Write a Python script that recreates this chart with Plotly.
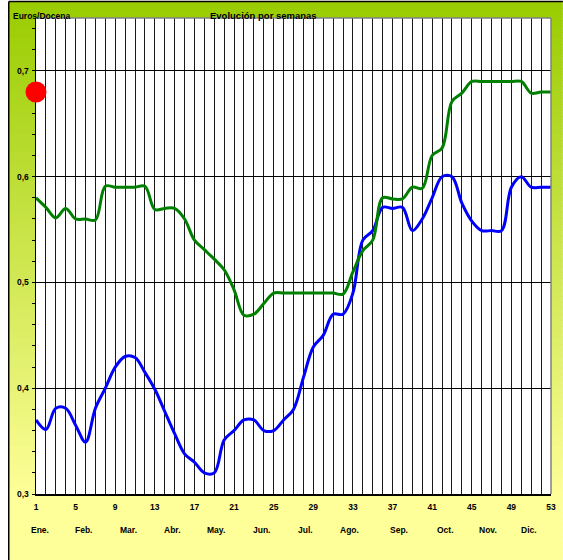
import plotly.graph_objects as go

weeks = list(range(1, 54))
green_vals = [0.580, 0.571, 0.561, 0.570, 0.560, 0.560, 0.559, 0.591, 0.590, 0.590,
              0.590, 0.591, 0.569, 0.570, 0.570, 0.560, 0.540, 0.531, 0.522, 0.512,
              0.493, 0.469, 0.470, 0.480, 0.490, 0.490, 0.490, 0.490, 0.490, 0.490,
              0.490, 0.489, 0.510, 0.530, 0.540, 0.580, 0.579, 0.579, 0.590, 0.589,
              0.620, 0.627, 0.671, 0.679, 0.690, 0.690, 0.690, 0.690, 0.690, 0.690,
              0.679, 0.680, 0.680]
blue_vals = [0.370, 0.361, 0.381, 0.381, 0.365, 0.349, 0.381, 0.400, 0.420, 0.430,
             0.429, 0.415, 0.399, 0.378, 0.357, 0.338, 0.330, 0.320, 0.320, 0.351,
             0.360, 0.370, 0.370, 0.360, 0.360, 0.370, 0.380, 0.410, 0.439, 0.450,
             0.470, 0.470, 0.490, 0.540, 0.549, 0.571, 0.570, 0.571, 0.549, 0.560,
             0.580, 0.600, 0.600, 0.575, 0.558, 0.549, 0.549, 0.549, 0.590, 0.600,
             0.590, 0.590, 0.590]
dot_week = [1]
dot_val = [0.68]
x_label_weeks = list(range(1, 54, 4))
y_label_vals = [0.3, 0.4, 0.5, 0.6, 0.7]
months = ["Ene.", "Feb.", "Mar.", "Abr.", "May.", "Jun.", "Jul.", "Ago.", "Sep.", "Oct.", "Nov.", "Dic."]
month_pos = [1.45, 5.75, 10.3, 14.8, 19.2, 23.8, 28.2, 32.7, 37.7, 42.3, 46.6, 50.8]

W, H = 563, 560
L, R, T, B = 36, 7, 18, 66
PW, PH = W - L - R, H - T - B


def px(x):
    return (x - L) / PW


def py(y):
    return (H - B - y) / PH


FONT = "Liberation Sans, Arial, sans-serif"

fig = go.Figure()
fig.add_trace(go.Scatter(x=weeks, y=blue_vals, mode="lines",
                         line=dict(color="#0000FF", width=3, shape="spline", smoothing=1),
                         hoverinfo="skip", showlegend=False))
fig.add_trace(go.Scatter(x=weeks, y=green_vals, mode="lines",
                         line=dict(color="#008000", width=3, shape="spline", smoothing=1),
                         hoverinfo="skip", showlegend=False))
fig.add_trace(go.Scatter(x=dot_week, y=dot_val, mode="markers",
                         marker=dict(color="#FF0000", size=21, line=dict(width=0)),
                         cliponaxis=False, hoverinfo="skip", showlegend=False))

shapes = []
# gradient background bands
c0 = (153, 204, 0)
c1 = (255, 255, 153)
y_start, y_end = 2, 500
step = 6
yy = y_start
while yy < H:
    f = min(max((yy + step / 2 - y_start) / (y_end - y_start), 0), 1)
    col = tuple(int(round(c0[i] + (c1[i] - c0[i]) * f)) for i in range(3))
    shapes.append(dict(type="rect", xref="paper", yref="paper",
                       x0=px(8), x1=px(W + 5), y0=py(min(yy + step + 1, H + 5)), y1=py(yy),
                       fillcolor="rgb(%d,%d,%d)" % col, line=dict(width=0), layer="below"))
    yy += step
# white plot area
shapes.append(dict(type="rect", xref="paper", yref="paper", x0=0, x1=1, y0=0, y1=1,
                   fillcolor="white", line=dict(width=0), layer="below"))
# outer frame
shapes.append(dict(type="line", xref="paper", yref="paper", x0=px(8.5), x1=px(8.5),
                   y0=py(1.5), y1=py(H + 5), line=dict(color="black", width=1.5), layer="below"))
shapes.append(dict(type="line", xref="paper", yref="paper", x0=px(8.5), x1=px(W + 5),
                   y0=py(1.5), y1=py(1.5), line=dict(color="black", width=1.5), layer="below"))
# plot area top/right border (gray)
shapes.append(dict(type="line", xref="paper", yref="paper", x0=0, x1=1, y0=1, y1=1,
                   line=dict(color="#808080", width=1.5)))
shapes.append(dict(type="line", xref="paper", yref="paper", x0=1, x1=1, y0=0, y1=1,
                   line=dict(color="#808080", width=1.5)))

annotations = [
    dict(text="Evolución por semanas", xref="paper", yref="paper", x=px(266), y=py(15),
         xanchor="center", yanchor="middle", showarrow=False,
         font=dict(family=FONT, size=9.5, color="black", weight="bold")),
    dict(text="Euros/Docena", xref="paper", yref="paper", x=px(11), y=py(16),
         xanchor="left", yanchor="middle", showarrow=False,
         font=dict(family=FONT, size=8.5, color="black", weight="bold")),
]
for m, p in zip(months, month_pos):
    annotations.append(dict(text=m, xref="x", yref="paper", x=p, y=py(530),
                            xanchor="center", yanchor="middle", showarrow=False,
                            font=dict(family=FONT, size=8.5, color="black", weight="bold")))

fig.update_layout(
    width=W, height=H, autosize=False,
    margin=dict(l=L, r=R, t=T, b=B, pad=0),
    paper_bgcolor="white", plot_bgcolor="white",
    separators=",.",
    shapes=shapes, annotations=annotations,
    showlegend=False,
    xaxis=dict(range=[1, 53], tickmode="array", tickvals=weeks,
               ticktext=[str(w) if w in x_label_weeks else "" for w in weeks],
               showgrid=True, gridcolor="#1a1a1a", gridwidth=1,
               showline=True, linecolor="black", linewidth=1.5,
               ticks="", ticklabelstandoff=4, zeroline=False, layer="below traces",
               tickfont=dict(family=FONT, size=8.5, color="black", weight="bold"),
               fixedrange=True),
    yaxis=dict(range=[0.3, 0.75], tickmode="array", tickvals=y_label_vals,
               tickformat=".1f",
               showgrid=True, gridcolor="black", gridwidth=1,
               showline=True, linecolor="black", linewidth=1.5,
               ticks="outside", ticklen=3, tickcolor="black",
               minor=dict(dtick=0.02, tick0=0.3, ticks="outside", ticklen=3, tickcolor="black", showgrid=False),
               ticklabelstandoff=1, zeroline=False, layer="below traces",
               tickfont=dict(family=FONT, size=8.5, color="black", weight="bold"),
               fixedrange=True),
)

fig.write_html("out.html", config={"displayModeBar": False, "staticPlot": True},
               post_script="document.body.style.margin='0px';document.body.style.overflow='hidden';")
